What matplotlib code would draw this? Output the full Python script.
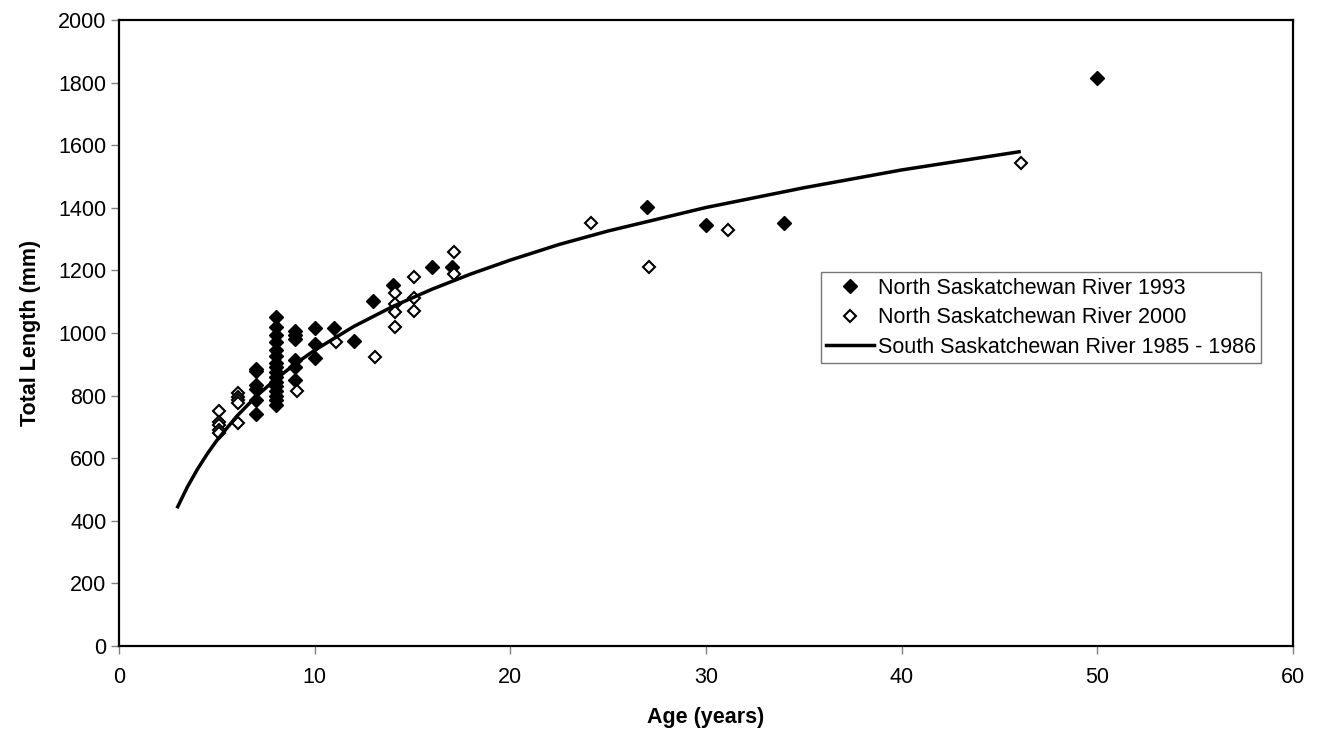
import matplotlib
matplotlib.use("Agg")
from matplotlib import pyplot as plt

plt.rcParams['font.family'] = ['Liberation Sans', 'DejaVu Sans']

# North Saskatchewan River 1993 (filled diamonds)
age_1993 = [7, 7, 7, 7, 7, 7,
            8, 8, 8, 8, 8, 8, 8, 8, 8, 8, 8, 8, 8, 8, 8, 8,
            9, 9, 9, 9, 9, 9,
            10, 10, 10, 11, 12, 13, 14, 16, 17, 27, 30, 34, 50]
len_1993 = [885, 878, 835, 820, 785, 740,
            1050, 1020, 995, 970, 945, 925, 905, 890, 875, 860, 845, 830, 815, 800, 785, 770,
            1005, 995, 980, 915, 890, 850,
            1015, 965, 920, 1015, 975, 1103, 1153, 1210, 1212, 1404, 1345, 1350, 1814]

# North Saskatchewan River 2000 (open diamonds)
age_2000 = [5.1, 5.1, 5.1, 5.1, 5.1,
            6.1, 6.1, 6.1, 6.1, 6.1,
            9.1, 11.1, 13.1,
            14.1, 14.1, 14.1, 14.1,
            15.1, 15.1, 15.1,
            17.1, 17.1, 24.1, 27.1, 31.1, 46.1]
len_2000 = [750, 715, 705, 690, 680,
            807, 797, 786, 775, 711,
            815, 972, 924,
            1127, 1093, 1068, 1018,
            1180, 1111, 1071,
            1260, 1188, 1350, 1210, 1329, 1544]

# South Saskatchewan River 1985 - 1986 (growth curve)
curve_age = [3, 3.5, 4, 4.5, 5, 6, 7, 8, 9, 10, 12, 14, 16, 18, 20, 22.5, 25, 30, 35, 40, 46]
curve_len = [445, 509, 564, 613, 657, 733, 797, 852, 901, 945, 1021, 1085, 1140, 1189, 1233,
             1283, 1326, 1401, 1464, 1521, 1579]

fig = plt.figure(figsize=(13.21, 7.41), dpi=100)
ax = fig.add_axes([0.0901, 0.1282, 0.8887, 0.8448])

ax.plot(age_1993, len_1993, linestyle='none', marker='D', markersize=7,
        color='black', label='North Saskatchewan River 1993')
ax.plot(age_2000, len_2000, linestyle='none', marker='D', markersize=6.2,
        markerfacecolor='white', markeredgecolor='black', markeredgewidth=1.5,
        label='North Saskatchewan River 2000')
ax.plot(curve_age, curve_len, color='black', linewidth=2.5,
        label='South Saskatchewan River 1985 - 1986')

ax.set_xlim(0, 60)
ax.set_ylim(0, 2000)
ax.set_xticks(range(0, 61, 10))
ax.set_yticks(range(0, 2001, 200))
ax.tick_params(direction='out', length=6, width=1, color='#808080', labelsize=15.5)
ax.tick_params(axis='x', pad=9)
ax.tick_params(axis='y', pad=3)
for s in ax.spines.values():
    s.set_linewidth(1.6)
    s.set_color('black')

ax.set_xlabel('Age (years)', fontsize=15.5, fontweight='bold', labelpad=14)
ax.set_ylabel('Total Length (mm)', fontsize=15.5, fontweight='bold', labelpad=12)

leg = ax.legend(loc='upper left', bbox_to_anchor=(0.598, 0.597), fontsize=15.5,
                frameon=True, fancybox=False, shadow=False, borderpad=0.25,
                handlelength=2.2, handletextpad=0.2, labelspacing=0.4,
                borderaxespad=0)
leg.get_frame().set_edgecolor('#555555')
leg.get_frame().set_linewidth(1.0)

fig.savefig('out.png', dpi=100)
